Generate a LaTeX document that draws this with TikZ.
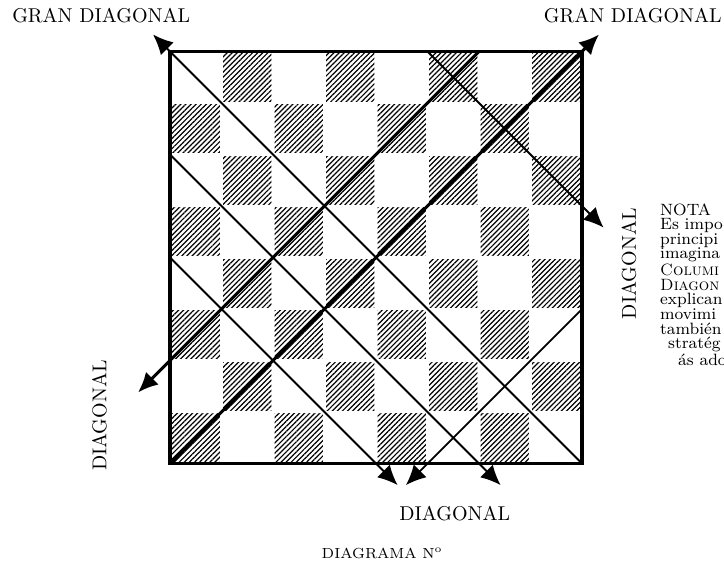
\documentclass[tikz,border=0pt]{standalone}
\usetikzlibrary{arrows.meta,patterns.meta,positioning}
\begin{document}
\begin{tikzpicture}[
    x=25.75pt, y=25.75pt,
    label/.style={font=\fontsize{10}{12}\selectfont, inner sep=0pt},
    hatch/.style={pattern={Lines[angle=45,distance=1.8pt,line width=0.6pt]}},
    diag/.style={line width=0.9pt},
    gdiag/.style={line width=1.5pt},
    tip/.style={-{Latex[length=10pt,width=9pt]}}
  ]
  \useasboundingbox (-3.301,-1.971) rectangle (10.757,9);

  % casillas rayadas
  \foreach \i in {0,...,7}
    \foreach \j in {0,...,7}{
      \pgfmathparse{int(mod(\i+\j,2))}
      \ifnum\pgfmathresult=0
        \fill[hatch] (\i+0.03,\j+0.03) rectangle (\i+0.97,\j+0.97);
      \fi
    }
  \draw[line width=1.6pt] (0,0) rectangle (8,8);

  % puntos del borde
  \coordinate (bl) at (0,0);
  \coordinate (br) at (8,0);
  \coordinate (l4) at (0,4);
  \coordinate (l6) at (0,6);
  \coordinate (t5) at (5,8);
  \coordinate (t6) at (6,8);
  \coordinate (r3) at (8,3);
  % puntas de flecha
  \coordinate (gtl) at (-0.33,8.33);
  \coordinate (gtr) at (8.33,8.33);
  \coordinate (rout) at (8.42,4.58);
  \coordinate (lout) at (-0.62,1.38);
  \coordinate (b4out) at (4.42,-0.42);
  \coordinate (b5out) at (4.58,-0.42);
  \coordinate (b6out) at (6.42,-0.42);

  \draw[diag,tip] (br) -- (gtl);
  \draw[gdiag,tip] (bl) -- (gtr);
  \draw[gdiag,tip] (t6) -- (lout);
  \draw[diag,tip] (l6) -- (b6out);
  \draw[diag,tip] (l4) -- (b4out);
  \draw[diag,tip] (t5) -- (rout);
  \draw[diag,tip] (r3) -- (b5out);

  \node[label, anchor=west] (gdl) at (-3.07,8.69) {GRAN DIAGONAL};
  \node[label, anchor=east] (gdr) at (10.72,8.69) {GRAN DIAGONAL};
  \node[label, rotate=90] (dl) at (-1.37,0.93) {DIAGONAL};
  \node[label, rotate=90] (dr) at (8.91,3.88) {DIAGONAL};
  \node[label] (db) at (5.53,-0.98) {DIAGONAL};
  \node[font=\fontsize{7.3}{8}\selectfont, inner sep=0pt] (num) at (4.12,-1.74) {DIAGRAMA N\textsuperscript{o}};
  \node[font=\fontsize{8.2}{7.3}\selectfont, inner sep=0pt, anchor=north west, align=left] (nota) at (9.51,5.06)
    {NOTA\\Es impo\\principi\\imagina\\\textsc{Columi}\\\textsc{Diagon}\\explican\\movimi\\tambi\'en\\\hspace*{4pt}strat\'eg\\\hspace*{9pt}\'as ado};
\end{tikzpicture}
\end{document}
